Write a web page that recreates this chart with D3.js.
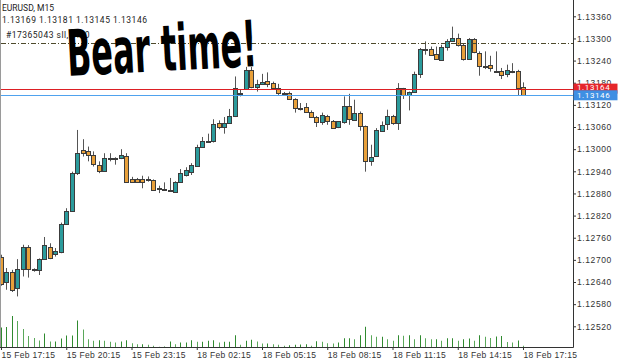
<!DOCTYPE html>
<html>
<head>
<meta charset="utf-8">
<script src="https://cdn.jsdelivr.net/npm/d3@7"></script>
<style>
  html, body { margin: 0; padding: 0; background: #fff; }
  svg { display: block; font-family: Roboto, "Liberation Sans", sans-serif; }
</style>
</head>
<body>
<svg id="chart" width="625" height="361"></svg>
<script>
// EURUSD M15, 15 Feb 17:15 -> 18 Feb 17:15 (97 bars)
const OPEN = [
  1.12709, 1.12641, 1.12668, 1.12625, 1.12676, 1.12735, 1.12674, 1.12671, 1.12702, 1.12736,
  1.12714, 1.12721, 1.12798, 1.12833, 1.12935, 1.12998, 1.12994, 1.12983, 1.12958, 1.12942,
  1.12976, 1.12977, 1.12976, 1.12982, 1.12920, 1.12920, 1.12919, 1.12919, 1.12917, 1.12894,
  1.12892, 1.12890, 1.12885, 1.12910, 1.12930, 1.12939, 1.12955, 1.13007, 1.13022, 1.13021,
  1.13072, 1.13060, 1.13072, 1.13088, 1.13153, 1.13163, 1.13215, 1.13170, 1.13177, 1.13186,
  1.13179, 1.13165, 1.13152, 1.13153, 1.13136, 1.13111, 1.13113, 1.13102, 1.13088, 1.13075,
  1.13091, 1.13077, 1.13060, 1.13075, 1.13116, 1.13080, 1.13098, 1.13063, 1.12967, 1.12982,
  1.13051, 1.13068, 1.13091, 1.13071, 1.13165, 1.13147, 1.13156, 1.13204, 1.13271, 1.13271,
  1.13258, 1.13244, 1.13277, 1.13294, 1.13301, 1.13283, 1.13244, 1.13298, 1.13260, 1.13226,
  1.13229, 1.13212, 1.13213, 1.13204, 1.13213, 1.13213, 1.13169
];
const HIGH = [
  1.12714, 1.12678, 1.12673, 1.12702, 1.12741, 1.12740, 1.12677, 1.12704, 1.12762, 1.12745,
  1.12732, 1.12801, 1.12840, 1.12939, 1.13052, 1.13027, 1.13007, 1.12994, 1.12967, 1.12989,
  1.12989, 1.12978, 1.13000, 1.12989, 1.12925, 1.12922, 1.12928, 1.12926, 1.12918, 1.12901,
  1.12910, 1.12922, 1.12913, 1.12946, 1.12951, 1.12962, 1.13012, 1.13033, 1.13042, 1.13081,
  1.13078, 1.13087, 1.13109, 1.13197, 1.13161, 1.13223, 1.13223, 1.13188, 1.13204, 1.13208,
  1.13183, 1.13177, 1.13155, 1.13156, 1.13138, 1.13125, 1.13125, 1.13105, 1.13090, 1.13099,
  1.13093, 1.13079, 1.13076, 1.13143, 1.13150, 1.13134, 1.13102, 1.13064, 1.13012, 1.13057,
  1.13075, 1.13107, 1.13093, 1.13179, 1.13166, 1.13156, 1.13210, 1.13274, 1.13292, 1.13278,
  1.13278, 1.13283, 1.13298, 1.13332, 1.13313, 1.13287, 1.13301, 1.13301, 1.13265, 1.13265,
  1.13253, 1.13265, 1.13220, 1.13229, 1.13233, 1.13215, 1.13181
];
const LOW = [
  1.12630, 1.12619, 1.12613, 1.12601, 1.12655, 1.12652, 1.12668, 1.12659, 1.12700, 1.12702,
  1.12709, 1.12718, 1.12797, 1.12831, 1.12930, 1.12980, 1.12967, 1.12953, 1.12935, 1.12939,
  1.12967, 1.12958, 1.12973, 1.12910, 1.12909, 1.12911, 1.12894, 1.12912, 1.12888, 1.12881,
  1.12890, 1.12888, 1.12884, 1.12909, 1.12926, 1.12930, 1.12954, 1.13006, 1.13020, 1.13018,
  1.13054, 1.13042, 1.13069, 1.13087, 1.13143, 1.13163, 1.13165, 1.13156, 1.13174, 1.13168,
  1.13163, 1.13147, 1.13147, 1.13134, 1.13099, 1.13105, 1.13098, 1.13087, 1.13060, 1.13066,
  1.13066, 1.13056, 1.13057, 1.13069, 1.13066, 1.13079, 1.13050, 1.12939, 1.12955, 1.12980,
  1.13048, 1.13052, 1.13066, 1.13052, 1.13136, 1.13105, 1.13155, 1.13193, 1.13256, 1.13253,
  1.13242, 1.13243, 1.13267, 1.13293, 1.13278, 1.13240, 1.13243, 1.13260, 1.13199, 1.13217,
  1.13210, 1.13210, 1.13190, 1.13195, 1.13206, 1.13145, 1.13145
];
const CLOSE = [
  1.12637, 1.12668, 1.12619, 1.12676, 1.12736, 1.12676, 1.12672, 1.12702, 1.12741, 1.12706,
  1.12723, 1.12798, 1.12833, 1.12935, 1.12989, 1.12989, 1.12982, 1.12958, 1.12942, 1.12976,
  1.12977, 1.12976, 1.12985, 1.12912, 1.12911, 1.12913, 1.12910, 1.12918, 1.12890, 1.12893,
  1.12891, 1.12889, 1.12912, 1.12935, 1.12944, 1.12958, 1.13006, 1.13023, 1.13021, 1.13068,
  1.13060, 1.13072, 1.13090, 1.13165, 1.13153, 1.13215, 1.13168, 1.13177, 1.13183, 1.13177,
  1.13165, 1.13152, 1.13153, 1.13136, 1.13111, 1.13110, 1.13099, 1.13088, 1.13075, 1.13093,
  1.13078, 1.13057, 1.13075, 1.13117, 1.13080, 1.13098, 1.13063, 1.12967, 1.12978, 1.13052,
  1.13066, 1.13091, 1.13071, 1.13165, 1.13147, 1.13155, 1.13204, 1.13271, 1.13270, 1.13256,
  1.13244, 1.13278, 1.13294, 1.13301, 1.13283, 1.13244, 1.13298, 1.13262, 1.13226, 1.13225,
  1.13220, 1.13211, 1.13203, 1.13215, 1.13212, 1.13167, 1.13146
];
const VOLUME = [
  800, 820, 1260, 1060, 740, 460, 380, 280, 560, 240,
  240, 360, 480, 480, 1080, 720, 330, 270, 290, 270,
  230, 200, 240, 290, 170, 130, 130, 110, 70, 30,
  40, 240, 130, 200, 200, 290, 230, 230, 270, 290,
  200, 230, 230, 490, 110, 270, 310, 240, 160, 160,
  130, 110, 70, 90, 110, 120, 130, 70, 250, 230,
  170, 160, 200, 370, 370, 330, 490, 830, 490, 430,
  430, 330, 270, 490, 470, 490, 330, 490, 370, 330,
  330, 270, 370, 370, 270, 330, 360, 270, 490, 430,
  380, 440, 460, 220, 200, 280, 70
];
const TIME_LABELS = [
  "15 Feb 17:15", "15 Feb 20:15", "15 Feb 23:15", "18 Feb 02:15", "18 Feb 05:15",
  "18 Feb 08:15", "18 Feb 11:15", "18 Feb 14:15", "18 Feb 17:15"
];
const PRICE_TICKS = [
  1.12520, 1.12580, 1.12640, 1.12700, 1.12760, 1.12820, 1.12880, 1.12940,
  1.13000, 1.13060, 1.13120, 1.13180, 1.13240, 1.13300, 1.13360
];
const ORDER_PRICE = 1.13164;
const BID_PRICE = 1.13146;
const PENDING_PRICE = 1.13287;
const HEADER_LINES = ["EURUSD, M15", "1.13169 1.13181 1.13145 1.13146"];
const ORDER_LABEL = "#17365043 sll, 0.10";
const NOTE = "Bear time!";

var svg, plot, xScale, yScale, volScale;
var plotRight = 573.5;
var plotBottom = 347.5;

const BULL = "#2b9b9c";
const BEAR = "#e8a03a";

function initChart() {
  svg = d3.select("#chart");

  xScale = d3.scaleLinear().domain([0, OPEN.length - 1]).range([1, 523]);
  yScale = d3.scaleLinear().domain([1.1252, 1.1336]).range([326.3, 16.3]);
  volScale = d3.scaleLinear().domain([0, d3.max(VOLUME)]).range([0, 31.5]);

  svg.append("clipPath").attr("id", "plot-clip")
    .append("rect").attr("x", 0).attr("y", 0)
    .attr("width", plotRight).attr("height", plotBottom);

  plot = svg.append("g").attr("clip-path", "url(#plot-clip)");

  // left border
  svg.append("line")
    .attr("x1", 0.5).attr("x2", 0.5).attr("y1", 0).attr("y2", plotBottom)
    .attr("stroke", "#9a9a9a");

  drawVolumes();
  drawLevels();
  drawCandles();
  drawAxes();
  drawTexts();
}

function drawVolumes() {
  plot.selectAll(".vol")
    .data(VOLUME)
    .join("line")
    .attr("class", "vol")
    .attr("x1", (d, i) => Math.round(xScale(i)) + 0.5)
    .attr("x2", (d, i) => Math.round(xScale(i)) + 0.5)
    .attr("y1", plotBottom)
    .attr("y2", (d) => plotBottom - volScale(d))
    .attr("stroke", (d, i) => (i > 0 && d < VOLUME[i - 1] ? "#5aa85a" : "#2f8a2f"))
    .attr("stroke-width", 1);
}

function drawLevels() {
  const yPend = Math.round(yScale(PENDING_PRICE)) + 0.5;
  svg.append("line")
    .attr("x1", 1).attr("x2", plotRight - 0.5).attr("y1", yPend).attr("y2", yPend)
    .style("stroke", "#4e4a2c").style("stroke-dasharray", "5,2,1,2");

  const yOrder = Math.round(yScale(ORDER_PRICE)) + 0.5;
  svg.append("line")
    .attr("x1", 1).attr("x2", plotRight - 0.5).attr("y1", yOrder).attr("y2", yOrder)
    .style("stroke", "#dd1f24").style("stroke-width", 1.1);

  const yBid = Math.round(yScale(BID_PRICE)) + 0.5;
  svg.append("line")
    .attr("x1", 1).attr("x2", plotRight - 0.5).attr("y1", yBid).attr("y2", yBid)
    .style("stroke", "#4fa2ee").style("stroke-width", 1.1);
}

function drawCandles() {
  const bars = d3.range(OPEN.length);
  const g = plot.append("g");

  g.selectAll(".wick")
    .data(bars)
    .join("line")
    .attr("class", "wick")
    .attr("x1", (i) => Math.round(xScale(i)) + 0.5)
    .attr("x2", (i) => Math.round(xScale(i)) + 0.5)
    .attr("y1", (i) => yScale(HIGH[i]))
    .attr("y2", (i) => yScale(LOW[i]))
    .attr("stroke", "#555");

  g.selectAll(".body")
    .data(bars)
    .join("rect")
    .attr("class", "body")
    .attr("x", (i) => Math.round(xScale(i)) - 1.5)
    .attr("width", 4)
    .attr("y", (i) => Math.round(yScale(Math.max(OPEN[i], CLOSE[i]))) + 0.5)
    .attr("height", (i) =>
      Math.max(1, Math.round(Math.abs(yScale(OPEN[i]) - yScale(CLOSE[i]))))
    )
    .attr("fill", (i) => (CLOSE[i] >= OPEN[i] ? BULL : BEAR))
    .attr("stroke", "#3c3c3c")
    .attr("stroke-width", 1);
}

function drawAxes() {
  const yAxis = d3.axisRight(yScale)
    .tickValues(PRICE_TICKS)
    .tickSize(3)
    .tickFormat(d3.format(".5f"));

  const yg = svg.append("g")
    .attr("transform", `translate(${plotRight - 0.5},0)`)
    .call(yAxis);
  yg.select(".domain").remove();
  yg.selectAll("line").attr("stroke", "#333");
  yg.selectAll("text")
    .attr("x", 4)
    .style("font-size", "8.5px")
    .style("letter-spacing", "0.6px")
    .attr("fill", "#333");

  const xAxis = d3.axisBottom(xScale)
    .tickValues(d3.range(0, OPEN.length, 12))
    .tickSize(3)
    .tickFormat((d, i) => TIME_LABELS[i]);

  const xg = svg.append("g")
    .attr("transform", `translate(0,${plotBottom - 0.5})`)
    .call(xAxis);
  xg.select(".domain").remove();
  xg.selectAll("line").attr("stroke", "#333");
  xg.selectAll("text")
    .attr("text-anchor", "start")
    .attr("y", 5)
    .style("font-size", "8.5px")
    .style("letter-spacing", "0.3px")
    .attr("fill", "#333");

  svg.append("line")
    .attr("x1", plotRight).attr("x2", plotRight).attr("y1", 0).attr("y2", plotBottom)
    .attr("stroke", "#333");
  svg.append("line")
    .attr("x1", 0).attr("x2", plotRight).attr("y1", plotBottom).attr("y2", plotBottom)
    .attr("stroke", "#333");

  // current price tags (the bid tag sits on top of the order tag)
  [
    { price: ORDER_PRICE, color: "#e5262b", shift: -1.5 },
    { price: BID_PRICE, color: "#3f8fe3", shift: 0.5 },
  ].forEach((tag) => {
    const y = yScale(tag.price);
    svg.append("rect")
      .attr("x", plotRight)
      .attr("y", y - 5)
      .attr("width", 44)
      .attr("height", 10)
      .attr("fill", tag.color);
    svg.append("text")
      .attr("x", plotRight + 3.5)
      .attr("y", y + 2.5 + tag.shift)
      .style("font-size", "8px")
      .style("letter-spacing", "0.6px")
      .attr("fill", "#fff")
      .text(d3.format(".5f")(tag.price));
  });
}

function drawTexts() {
  svg.selectAll(".header")
    .data(HEADER_LINES)
    .join("text")
    .attr("class", "header")
    .attr("x", 2)
    .attr("y", (d, i) => 11 + i * 12)
    .style("font-size", "8.5px")
    .style("letter-spacing", (d, i) => (i === 0 ? "0px" : "0.5px"))
    .attr("fill", "#222")
    .text((d) => d);

  svg.append("text")
    .attr("x", 6)
    .attr("y", yScale(PENDING_PRICE) - 5)
    .style("font-size", "8.5px")
    .style("letter-spacing", "0.5px")
    .attr("fill", "#222")
    .text(ORDER_LABEL);

  svg.append("text")
    .attr("transform", "translate(68,76) rotate(-3)")
    .attr("textLength", 190)
    .attr("lengthAdjust", "spacingAndGlyphs")
    .style("font-family", "'Liberation Sans Narrow', 'DejaVu Sans Condensed', sans-serif")
    .style("font-weight", "bold")
    .style("font-size", "64px")
    .attr("fill", "#000")
    .text(NOTE);
}

initChart();
</script>
</body>
</html>
